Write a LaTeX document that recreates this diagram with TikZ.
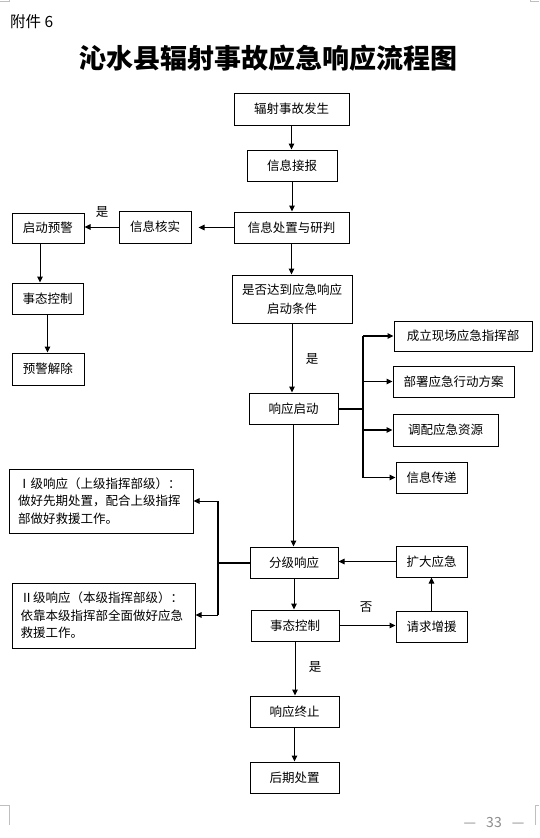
\documentclass[tikz,border=0pt]{standalone}
\usepackage{fontspec}
\setmainfont{Noto Sans CJK SC}
\usetikzlibrary{arrows.meta}
\begin{document}
\begin{tikzpicture}[x=1pt,y=-1pt,
  box/.style={draw=black, line width=1pt, inner sep=0pt, font=\fontsize{12.5}{15}\selectfont},
  arr/.style={line width=1pt, -{Triangle[length=6pt,width=5.5pt]}},
  barr/.style={line width=1.2pt, -{Triangle[length=6pt,width=5.5pt]}},
  busline/.style={line width=2pt},
  lbl/.style={inner sep=0pt, font=\fontsize{12.5}{15}\selectfont},
  crop/.style={draw=black!25, line width=0.8pt}]
\useasboundingbox (0,0) rectangle (539,838);
% header
\node[anchor=west, inner sep=0pt, font=\fontsize{15.5}{18}\selectfont] (att) at (10,22) {附件 6};
\node[inner sep=0pt, font=\fontsize{27}{30}\selectfont\bfseries] (title) at (268,58) {沁水县辐射事故应急响应流程图};
% main column
\node[box, minimum width=115pt, minimum height=32pt] (a1) at (291.5,109) {辐射事故发生};
\node[box, minimum width=90pt, minimum height=31pt] (a2) at (292,165.5) {信息接报};
\node[box, minimum width=115pt, minimum height=31pt] (a3) at (291.5,227.5) {信息处置与研判};
\node[box, minimum width=72pt, minimum height=32pt] (a4) at (155,227) {信息核实};
\node[box, minimum width=72pt, minimum height=30pt] (a5) at (48,228) {启动预警};
\node[box, minimum width=71pt, minimum height=31pt] (a6) at (47.5,298.5) {事态控制};
\node[box, minimum width=72pt, minimum height=32pt] (a7) at (48,369) {预警解除};
\node[box, minimum width=120pt, minimum height=48pt, align=center, font=\fontsize{12.5}{19}\selectfont] (a8) at (292,299) {是否达到应急响应\\启动条件};
\node[box, minimum width=89pt, minimum height=31pt] (a9) at (293.5,408.5) {响应启动};
\node[box, minimum width=138pt, minimum height=30pt] (b1) at (463,336) {成立现场应急指挥部};
\node[box, minimum width=121pt, minimum height=31pt] (b2) at (453.5,381.5) {部署应急行动方案};
\node[box, minimum width=105pt, minimum height=32pt] (b3) at (445.5,430) {调配应急资源};
\node[box, minimum width=71pt, minimum height=31pt] (b4) at (431.5,477.5) {信息传递};
\node[box, minimum width=184pt, minimum height=64pt, text width=166pt, align=left, font=\fontsize{12.5}{17.5}\selectfont] (c1) at (101,501) {Ⅰ级响应（上级指挥部级）：\\做好先期处置，配合上级指挥\\部做好救援工作。};
\node[box, minimum width=183pt, minimum height=65pt, text width=166pt, align=left, font=\fontsize{12.5}{17.5}\selectfont] (c2) at (103.5,615.5) {Ⅱ级响应（本级指挥部级）：\\依靠本级指挥部全面做好应急\\救援工作。};
\node[box, minimum width=88pt, minimum height=31pt] (a10) at (294,562.5) {分级响应};
\node[box, minimum width=71pt, minimum height=31pt] (d1) at (431.5,561.5) {扩大应急};
\node[box, minimum width=88pt, minimum height=31pt] (a11) at (295,625.5) {事态控制};
\node[box, minimum width=71pt, minimum height=31pt] (d2) at (431.5,626.5) {请求增援};
\node[box, minimum width=89pt, minimum height=31pt] (a12) at (294.5,711.5) {响应终止};
\node[box, minimum width=89pt, minimum height=31pt] (a13) at (294.5,777.5) {后期处置};
% labels
\node[lbl] (l1) at (102,212) {是};
\node[lbl] (l2) at (312,359) {是};
\node[lbl] (l3) at (366,607) {否};
\node[lbl] (l4) at (315,667) {是};
% connectors
\draw[arr] (a1.south) -- (a1.south |- a2.north);
\draw[arr] (a2.south) -- (a2.south |- a3.north);
\draw[arr, shorten >=7pt] (a3.west) -- (a3.west -| a4.east);
\draw[arr] (a4.west) -- (a4.west -| a5.east);
\draw[arr] ([xshift=-8pt]a5.south) -- ([xshift=-8pt]a5.south |- a6.north);
\draw[arr] (a6.south) -- (a6.south |- a7.north);
\draw[arr] (a3.south) -- (a3.south |- a8.north);
\draw[arr] (a8.south) -- (a8.south |- a9.north);
% right bus
\coordinate (bt) at (363,336);
\coordinate (bb) at (363,477.5);
\draw[busline] (bt) -- (bb);
\draw[busline] (a9.east) -- (a9.east -| bt);
\draw[barr] (bt) -- (bt -| b1.west);
\draw[barr] (bt |- b2.west) -- (b2.west);
\draw[barr] (bt |- b3.west) -- (b3.west);
\draw[barr] (bb) -- (bb -| b4.west);
\draw[arr] (a9.south) -- (a9.south |- a10.north);
% left bus
\coordinate (lt) at (218,501);
\coordinate (lb) at (218,615);
\draw[busline] (a10.west) -- (a10.west -| lt);
\draw[line width=1.5pt] (lt) -- (lb);
\draw[arr] (lt) -- (lt -| c1.east);
\draw[arr] (lb) -- (lb -| c2.east);
% lower part
\draw[arr] (a10.south) -- (a10.south |- a11.north);
\draw[arr] (a11.east) -- (a11.east -| d2.west);
\draw[arr] (d2.north) -- (d1.south);
\draw[arr] (d1.west) -- (d1.west -| a10.east);
\draw[arr] (a11.south) -- (a11.south |- a12.north);
\draw[arr] (a12.south) -- (a12.south |- a13.north);
% page number and crop marks
\node[text=black!45, inner sep=0pt, font=\fontsize{14}{16}\selectfont] (pg) at (494,822) {—\hspace{10pt}33\hspace{10pt}—};
\draw[crop] (0,1.5) -- (9,1.5) -- (9,0);
\draw[crop] (539,1.5) -- (530,1.5) -- (530,0);
\draw[crop] (0,805) -- (9,805) -- (9,825);
\draw[crop] (539,805) -- (535,805) -- (535,825);
\end{tikzpicture}
\end{document}
